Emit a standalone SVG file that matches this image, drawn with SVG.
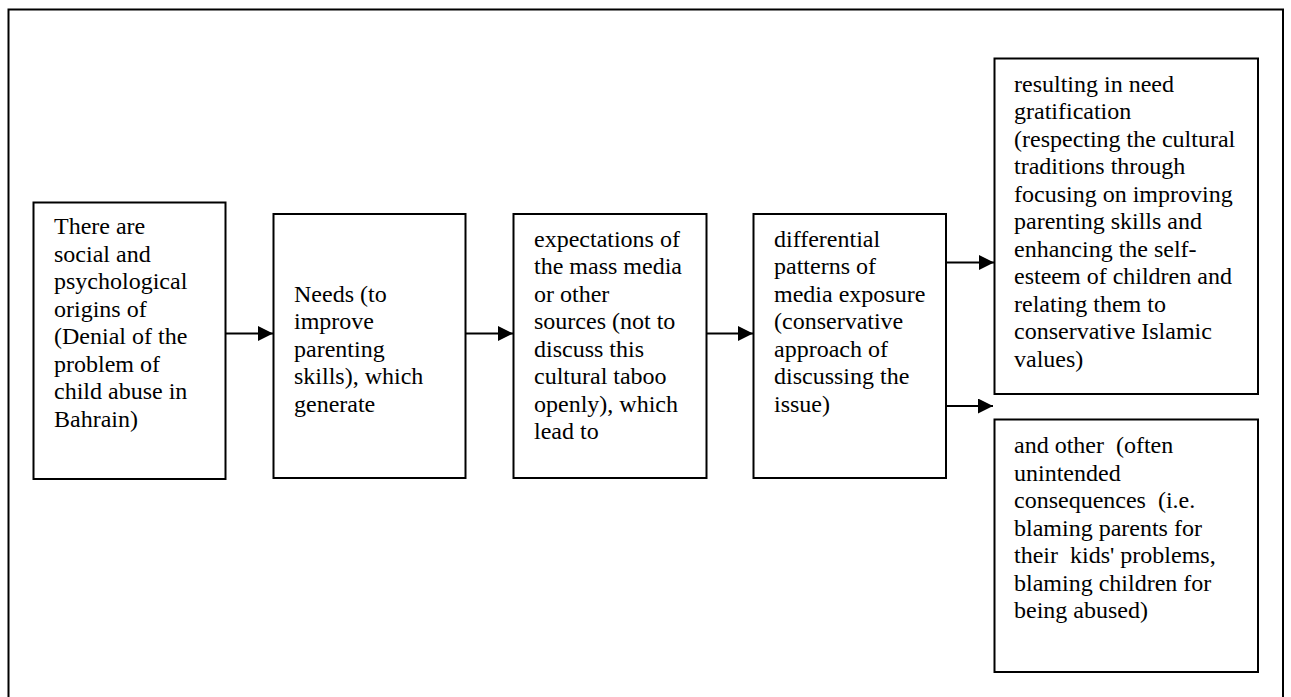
<svg xmlns="http://www.w3.org/2000/svg" width="1291" height="697" viewBox="0 0 1291 697">
<defs>
<style>
.box{fill:#fff;stroke:#000;stroke-width:2}
.t{font-family:"Liberation Serif","Times New Roman",serif;font-size:24px;fill:#000;white-space:pre}
.c{stroke:#000;stroke-width:2;fill:none}
</style>
<marker id="ah" markerWidth="15" markerHeight="15" viewBox="0 0 15 15" refX="15" refY="7.5" orient="auto" markerUnits="userSpaceOnUse">
<path d="M0,0 L15,7.5 L0,15 Z" fill="#000"/>
</marker>
</defs>
<rect x="0" y="0" width="1291" height="697" fill="#fff"/>
<rect x="8.5" y="9.5" width="1274.5" height="700" fill="none" stroke="#000" stroke-width="2"/>
<g id="connectors">
<line class="c" x1="225" y1="333.5" x2="273" y2="333.5" marker-end="url(#ah)"/>
<line class="c" x1="465.5" y1="333.5" x2="513" y2="333.5" marker-end="url(#ah)"/>
<line class="c" x1="706.5" y1="333.5" x2="753" y2="333.5" marker-end="url(#ah)"/>
<line class="c" x1="946" y1="262.5" x2="994" y2="262.5" marker-end="url(#ah)"/>
<line class="c" x1="946" y1="406" x2="993" y2="406" marker-end="url(#ah)"/>
</g>
<g id="node1">
<rect class="box" x="33.5" y="202.5" width="192" height="276.5"/>
<text class="t"><tspan x="54" y="234">There are</tspan><tspan x="54" y="261.5">social and</tspan><tspan x="54" y="289">psychological</tspan><tspan x="54" y="316.5">origins of</tspan><tspan x="54" y="344">(Denial of the</tspan><tspan x="54" y="371.5">problem of</tspan><tspan x="54" y="399">child abuse in</tspan><tspan x="54" y="426.5">Bahrain)</tspan></text>
</g>
<g id="node2">
<rect class="box" x="273.5" y="214" width="192" height="264"/>
<text class="t"><tspan x="294" y="301.7">Needs (to</tspan><tspan x="294" y="329.2">improve</tspan><tspan x="294" y="356.7">parenting</tspan><tspan x="294" y="384.2">skills), which</tspan><tspan x="294" y="411.7">generate</tspan></text>
</g>
<g id="node3">
<rect class="box" x="513.5" y="214" width="193" height="264"/>
<text class="t"><tspan x="534" y="246.7">expectations of</tspan><tspan x="534" y="274.2">the mass media</tspan><tspan x="534" y="301.7">or other</tspan><tspan x="534" y="329.2">sources (not to</tspan><tspan x="534" y="356.7">discuss this</tspan><tspan x="534" y="384.2">cultural taboo</tspan><tspan x="534" y="411.7">openly), which</tspan><tspan x="534" y="439.2">lead to</tspan></text>
</g>
<g id="node4">
<rect class="box" x="753.5" y="214" width="192.5" height="264"/>
<text class="t"><tspan x="774" y="246.7">differential</tspan><tspan x="774" y="274.2">patterns of</tspan><tspan x="774" y="301.7">media exposure</tspan><tspan x="774" y="329.2">(conservative</tspan><tspan x="774" y="356.7">approach of</tspan><tspan x="774" y="384.2">discussing the</tspan><tspan x="774" y="411.7">issue)</tspan></text>
</g>
<g id="node5">
<rect class="box" x="994.5" y="58.5" width="263.5" height="335.5"/>
<text class="t"><tspan x="1014" y="91.7">resulting in need</tspan><tspan x="1014" y="119.2">gratification</tspan><tspan x="1014" y="146.7">(respecting the cultural</tspan><tspan x="1014" y="174.2">traditions through</tspan><tspan x="1014" y="201.7">focusing on improving</tspan><tspan x="1014" y="229.2">parenting skills and</tspan><tspan x="1014" y="256.7">enhancing the self-</tspan><tspan x="1014" y="284.2">esteem of children and</tspan><tspan x="1014" y="311.7">relating them to</tspan><tspan x="1014" y="339.2">conservative Islamic</tspan><tspan x="1014" y="366.7">values)</tspan></text>
</g>
<g id="node6">
<rect class="box" x="994.5" y="419.5" width="263.5" height="252.5"/>
<text class="t"><tspan x="1014" y="453.3">and other  (often</tspan><tspan x="1014" y="480.8">unintended</tspan><tspan x="1014" y="508.3">consequences  (i.e.</tspan><tspan x="1014" y="535.8">blaming parents for</tspan><tspan x="1014" y="563.3">their  kids' problems,</tspan><tspan x="1014" y="590.8">blaming children for</tspan><tspan x="1014" y="618.3">being abused)</tspan></text>
</g>
</svg>
